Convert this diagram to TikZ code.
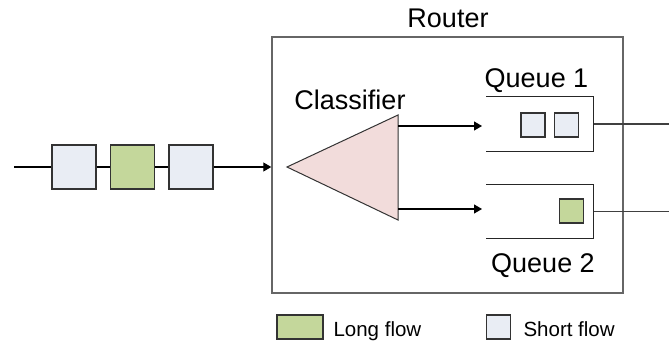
\documentclass[tikz,border=0pt]{standalone}
\usepackage{fontspec}
\setmainfont{Liberation Sans}
\usetikzlibrary{arrows.meta}
\definecolor{shortfill}{HTML}{E9EDF4}
\definecolor{longfill}{HTML}{C4D79B}
\definecolor{classfill}{HTML}{F2DCDB}

\begin{document}
\begin{tikzpicture}[x=1pt, y=-1pt, line width=1.1pt,
  pkt/.style={draw=black!80, inner sep=0pt, minimum size=44pt},
  shortpkt/.style={pkt, fill=shortfill},
  longpkt/.style={pkt, fill=longfill},
  qpkt/.style={minimum size=24pt},
  flowarrow/.style={-{Triangle[length=8pt, width=9pt]}},
  lbl/.style={inner sep=0pt, anchor=base, font=\fontsize{27}{32}\selectfont},
  leg/.style={inner sep=0pt, anchor=base west, font=\fontsize{20.5}{24}\selectfont}]
\useasboundingbox (0,0) rectangle (669,342);


% GLOBAL SETTINGS
\newcommand{\npkt}{3}
\newcommand{\qwidth}{106pt}

% SHARED CODE
\newlength{\pdist}
\setlength{\pdist}{58.5pt}
% incoming packets
\coordinate (in) at (14,167);
\path (15.5,167) foreach \j/\s in {1/shortpkt,2/longpkt,3/shortpkt} {
++(\pdist,0) node[\s] (P\j) {}
};
% router
\node[draw=black!60, line width=1.4pt, inner sep=0pt,
  minimum width=351pt, minimum height=256pt] (router) at (447.5,165) {};
\node[lbl] (routerlbl) at (448,28) {Router};
% classifier
\coordinate (ctip) at (287,167);
\coordinate (ctop) at (398,115);
\coordinate (cbot) at (398,220);
\coordinate (c1) at (398,126);
\coordinate (c2) at (398,209);
\draw[draw=black!80, fill=classfill, line width=1pt] (ctip) -- (ctop) -- (cbot) -- cycle;
\node[lbl] (classlbl) at (350,110) {Classifier};
% queues
\node[minimum width=\qwidth, minimum height=54pt] (Q1) at (540,124) {};
\node[minimum width=\qwidth, minimum height=53pt] (Q2) at (540,211.5) {};
\node[lbl] (Q1lbl) at (536.5,88) {Queue 1};
\node[lbl] (Q2lbl) at (543,272) {Queue 2};
\node[shortpkt, qpkt] (q11) at (533,125) {};
\node[shortpkt, qpkt] (q12) at (566.5,125) {};
\node[longpkt, qpkt] (q21) at (571.5,211) {};
% helper coordinates
\coordinate (e1) at (482,126);
\coordinate (e2) at (482,209);
\coordinate (o1) at (669,124);
\coordinate (o2) at (669,211.5);
% legend
\node[longpkt, minimum width=46pt, minimum height=24pt] (Llong) at (300,327) {};
\node[leg] (Llonglbl) at (333,336) {Long flow};
\node[shortpkt, minimum size=24pt] (Lshort) at (498.5,327) {};
\node[leg] (Lshortlbl) at (523,336) {Short flow};



% EDGES & QUEUES
\draw (in) -- (P1) ;
\foreach \j [evaluate=\j as \k using int(\j+1)] in {1,...,2} {
\draw (P\j) -- (P\k) ;
}
\draw[flowarrow] (P\npkt) -- (P\npkt -| router.west) ;
\draw[flowarrow] (c1) -- (e1) ;
\draw[flowarrow] (c2) -- (e2) ;
\foreach \q in {Q1,Q2} {
\draw[black!85] (\q.north west) -- (\q.north east) -- (\q.south east) -- (\q.south west) ;
}
\draw[black!75] (Q1.east) -- (o1) ;
\draw[black!75] (Q2.east) -- (o2) ;

\end{tikzpicture}
\end{document}
